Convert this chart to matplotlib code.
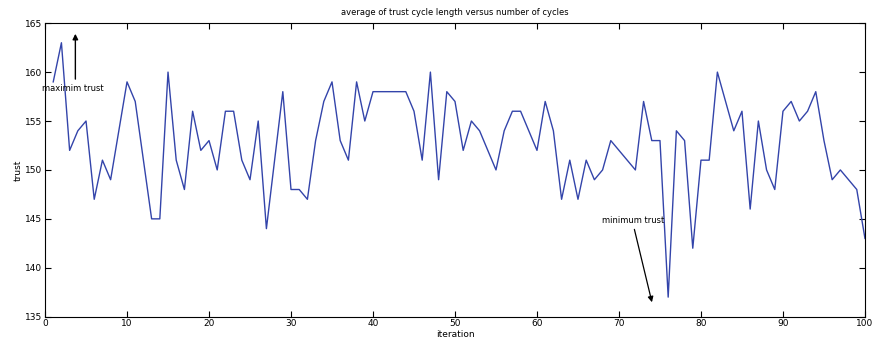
import matplotlib.pyplot as plt
import numpy as np

iterations = np.arange(1, 101)
trust = [159, 163, 152, 154, 155, 147, 151, 149, 154, 159,
         157, 151, 145, 145, 160, 151, 148, 156, 152, 153,
         150, 156, 156, 151, 149, 155, 144, 151, 158, 148,
         148, 147, 153, 157, 159, 153, 151, 159, 155, 158,
         158, 158, 158, 158, 156, 151, 160, 149, 158, 157,
         152, 155, 154, 152, 150, 154, 156, 156, 154, 152,
         157, 154, 147, 151, 147, 151, 149, 150, 153, 152,
         151, 150, 157, 153, 153, 137, 154, 153, 142, 151,
         151, 160, 157, 154, 156, 146, 155, 150, 148, 156,
         157, 155, 156, 158, 153, 149, 150, 149, 148, 143]

x_ticks = [0, 10, 20, 30, 40, 50, 60, 70, 80, 90, 100]
y_ticks = [135, 140, 145, 150, 155, 160, 165]

fig = plt.figure(figsize=(8.76, 3.46), dpi=100)
ax = fig.add_axes([0.0514, 0.0847, 0.936, 0.8483])

ax.plot(iterations, trust, color='#3344aa', linewidth=1.0)

ax.set_xlim(0, 100)
ax.set_ylim(135, 165)
ax.set_xticks(x_ticks)
ax.set_yticks(y_ticks)
ax.tick_params(direction='in', top=True, right=True, labelsize=6.5,
               length=4, width=0.8, pad=2)
for s in ax.spines.values():
    s.set_linewidth(0.8)

ax.set_title('average of trust cycle length versus number of cycles',
             fontsize=6, pad=6)
ax.set_xlabel('iteration', fontsize=6.5, labelpad=1)
ax.set_ylabel('trust', fontsize=6.5, labelpad=2)

# annotations
ax.annotate('', xy=(3.7, 164.2), xytext=(3.7, 159.0),
            arrowprops=dict(arrowstyle='-|>', color='black', lw=1.0,
                            mutation_scale=8))
ax.text(3.4, 158.3, 'maximim trust', fontsize=6, ha='center', va='center')

ax.annotate('', xy=(74.1, 136.2), xytext=(71.8, 144.2),
            arrowprops=dict(arrowstyle='-|>', color='black', lw=0.9,
                            mutation_scale=8))
ax.text(71.7, 144.8, 'minimum trust', fontsize=6, ha='center', va='center')

fig.savefig('out.png', dpi=100)
